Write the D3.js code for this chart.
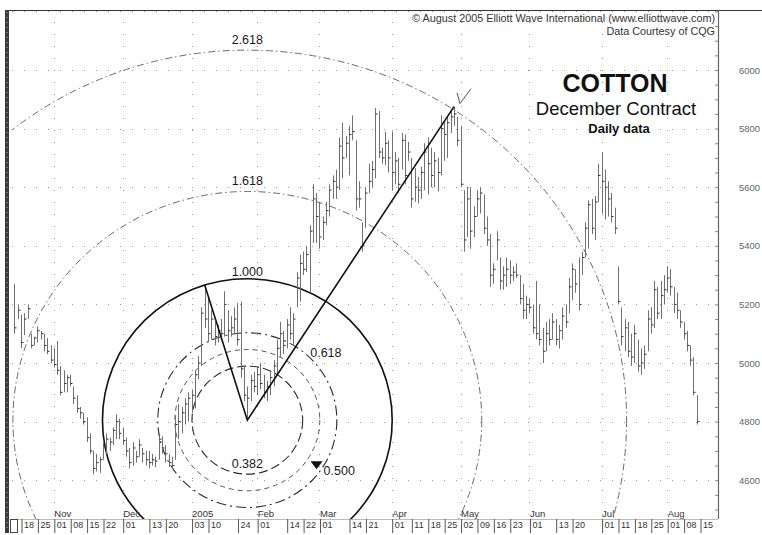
<!DOCTYPE html>
<html>
<head>
<meta charset="utf-8">
<script src="https://cdn.jsdelivr.net/npm/d3@7"></script>
<style>
  body { margin: 0; background: #fff; }
  svg { display: block; font-family: "Liberation Sans", Arial, sans-serif; }
</style>
</head>
<body>
<svg id="chart" width="762" height="535"></svg>
<script>
// ---- Trading calendar -------------------------------------------------
const calendarStart = "2004-10-14";
const calendarEnd = "2005-08-19";
const holidays = ["2004-11-25", "2004-12-24", "2004-12-31", "2005-01-17",
                  "2005-02-21", "2005-03-25", "2005-05-30", "2005-07-04"];

// ---- Daily bars (cents/lb x100), one entry per trading day from Oct 14 ----
const highs = [
  5270, 5200,                          // Oct 14-15
  5165, 5170, 5200, 5100, 5090,        // Oct 18-22
  5125, 5110, 5100, 5085, 5060,        // Oct 25-29
  5050, 5075, 4990, 4975, 4960,        // Nov 1-5
  4960, 4920, 4890, 4850, 4830,        // Nov 8-12
  4815, 4760, 4700, 4690, 4680,        // Nov 15-19
  4730, 4760, 4745, 4780,              // Nov 22-26
  4825, 4810, 4780, 4745, 4710,        // Nov 29-Dec 3
  4730, 4700, 4740, 4710, 4700,        // Dec 6-10
  4700, 4690, 4680, 4760, 4750,        // Dec 13-17
  4720, 4690, 4680, 4820,              // Dec 20-23
  4860, 4850, 4880, 4900,              // Dec 27-30
  4910, 4975, 5025, 5190, 5266,        // Jan 3-7
  5225, 5180, 5140, 5130, 5150,        // Jan 10-14
  5245, 5180, 5160, 5190,              // Jan 18-21
  5205, 5210, 4990, 4920, 4960,        // Jan 24-28
  4970, 4990, 5000, 4960, 4940,        // Jan 31-Feb 4
  4970, 5010, 5080, 5140, 5110,        // Feb 7-11
  5150, 5190, 5170, 5310, 5370,        // Feb 14-18
  5380, 5400, 5470, 5610,              // Feb 22-25
  5580, 5550, 5500, 5550, 5610,        // Feb 28-Mar 4
  5640, 5660, 5770, 5820, 5775,        // Mar 7-11
  5810, 5845, 5760, 5620, 5480,        // Mar 14-18
  5600, 5680, 5690, 5870,              // Mar 21-24
  5860, 5735, 5790, 5760, 5790,        // Mar 28-Apr 1
  5720, 5700, 5785, 5780, 5755,        // Apr 4-8
  5700, 5665, 5635, 5670, 5750,        // Apr 11-15
  5770, 5735, 5720, 5700, 5845,        // Apr 18-22
  5825, 5840, 5865, 5875, 5840,        // Apr 25-29
  5810, 5590, 5600, 5600, 5535,        // May 2-6
  5590, 5600, 5575, 5500, 5440,        // May 9-13
  5340, 5450, 5360, 5330, 5360,        // May 16-20
  5350, 5330, 5340, 5300, 5270,        // May 23-27
  5230, 5220, 5200, 5280,              // May 31-Jun 3
  5200, 5120, 5140, 5150, 5170,        // Jun 6-10
  5150, 5130, 5190, 5200, 5290,        // Jun 13-17
  5340, 5320, 5360, 5380, 5480,        // Jun 20-24
  5555, 5560, 5570, 5680, 5720,        // Jun 27-Jul 1
  5660, 5620, 5580, 5530,              // Jul 5-8
  5330, 5190, 5150, 5140, 5100,        // Jul 11-15
  5130, 5080, 5050, 5060, 5180,        // Jul 18-22
  5190, 5280, 5260, 5280, 5300,        // Jul 25-29
  5330, 5320, 5260, 5240, 5180,        // Aug 1-5
  5140, 5110, 5060, 5020, 4890         // Aug 8-12
];
const lows = [
  5100, 5150,
  5050, 5095, 5150, 5050, 5060,
  5070, 5080, 5040, 5030, 5000,
  4985, 4960, 4890, 4900, 4900,
  4920, 4860, 4830, 4810, 4790,
  4730, 4690, 4620, 4630, 4625,
  4670, 4690, 4700, 4720,
  4740, 4740, 4720, 4680, 4640,
  4650, 4660, 4680, 4660, 4650,
  4640, 4650, 4645, 4670, 4690,
  4660, 4645, 4640, 4670,
  4740, 4760, 4790, 4800,
  4830, 4845, 4945, 4990, 5120,
  5070, 5080, 5060, 5070, 5080,
  5090, 5070, 5090, 5100,
  5060, 4950, 4870, 4805, 4870,
  4900, 4890, 4910, 4880, 4870,
  4890, 4920, 4960, 5020, 5030,
  5050, 5080, 5060, 5190, 5210,
  5300, 5310, 5240, 5410,
  5410, 5390, 5420, 5470, 5500,
  5560, 5560, 5590, 5630, 5700,
  5640, 5760, 5520, 5530, 5380,
  5460, 5580, 5600, 5630,
  5700, 5680, 5676, 5650, 5590,
  5610, 5580, 5660, 5610, 5690,
  5530, 5550, 5545, 5560, 5590,
  5575, 5600, 5600, 5585, 5640,
  5690, 5700, 5785, 5810, 5740,
  5600, 5380, 5430, 5390, 5430,
  5500, 5510, 5440, 5400, 5260,
  5270, 5350, 5250, 5250, 5260,
  5270, 5280, 5290, 5200, 5150,
  5150, 5170, 5100, 5080,
  5060, 5000, 5040, 5060, 5080,
  5060, 5050, 5080, 5120, 5170,
  5215, 5240, 5180, 5300, 5360,
  5390, 5440, 5420, 5550, 5510,
  5490, 5500, 5480, 5440,
  5200, 5060, 5040, 5020, 4990,
  5000, 4970, 4960, 4980, 5040,
  5100, 5120, 5150, 5150, 5200,
  5240, 5230, 5170, 5150, 5120,
  5080, 5040, 4990, 4890, 4790
];
const closes = [
  5120, 5180,
  5070, 5150, 5185, 5060, 5085,
  5110, 5100, 5060, 5040, 5010,
  4995, 4975, 4900, 4930, 4950,
  4930, 4880, 4845, 4830, 4800,
  4745, 4700, 4640, 4660, 4670,
  4720, 4740, 4730, 4770,
  4800, 4760, 4735, 4700, 4660,
  4710, 4680, 4720, 4690, 4670,
  4660, 4670, 4665, 4740, 4710,
  4690, 4660, 4650, 4790,
  4800, 4830, 4860, 4880,
  4890, 4960, 5000, 5170, 5150,
  5100, 5150, 5090, 5110, 5100,
  5200, 5110, 5120, 5150,
  5080, 4980, 4890, 4880, 4940,
  4920, 4960, 4930, 4900, 4920,
  4950, 4990, 5050, 5100, 5060,
  5130, 5100, 5150, 5290, 5340,
  5320, 5370, 5450, 5560,
  5500, 5430, 5480, 5520, 5590,
  5620, 5600, 5740, 5700, 5750,
  5780, 5790, 5560, 5560, 5400,
  5580, 5620, 5660, 5850,
  5720, 5700, 5750, 5700, 5650,
  5690, 5610, 5760, 5640, 5720,
  5560, 5600, 5590, 5650, 5720,
  5680, 5640, 5690, 5650, 5800,
  5780, 5820, 5840, 5850, 5760,
  5610, 5420, 5560, 5450, 5500,
  5560, 5580, 5460, 5420, 5300,
  5320, 5420, 5280, 5300, 5320,
  5300, 5310, 5300, 5220, 5180,
  5200, 5190, 5120, 5100,
  5080, 5040, 5100, 5080, 5140,
  5080, 5110, 5160, 5140, 5260,
  5320, 5270, 5200, 5360, 5460,
  5540, 5460, 5550, 5640, 5620,
  5600, 5560, 5500, 5460,
  5210, 5090, 5120, 5040, 5020,
  5100, 4990, 5000, 5030, 5150,
  5130, 5250, 5170, 5230, 5250,
  5290, 5260, 5200, 5180, 5140,
  5100, 5060, 5010, 4900, 4800
];

// ---- Axis labels ------------------------------------------------------
const priceTicks = [4600, 4800, 5000, 5200, 5400, 5600, 5800, 6000];
const dayTicks = ["2004-10-18", "2004-10-25", "2004-11-01", "2004-11-08", "2004-11-15",
  "2004-11-22", "2004-12-01", "2004-12-13", "2004-12-20", "2005-01-03", "2005-01-10",
  "2005-01-24", "2005-02-01", "2005-02-14", "2005-02-22", "2005-03-01", "2005-03-14",
  "2005-03-21", "2005-04-01", "2005-04-11", "2005-04-18", "2005-04-25", "2005-05-02",
  "2005-05-09", "2005-05-16", "2005-05-23", "2005-06-01", "2005-06-13", "2005-06-20",
  "2005-07-01", "2005-07-11", "2005-07-18", "2005-07-25", "2005-08-01", "2005-08-08",
  "2005-08-15"];
const monthTicks = ["2004-11-01", "2004-12-01", "2005-01-03", "2005-02-01", "2005-03-01",
  "2005-04-01", "2005-05-02", "2005-06-01", "2005-07-01", "2005-08-01"];
const monthLabels = ["Nov", "Dec", "2005", "Feb", "Mar", "Apr", "May", "Jun", "Jul", "Aug"];

// ---- Fibonacci circles around the January low ---------------------------
const pivotDays = ["2005-01-07", "2005-01-27", "2005-04-28"];   // high, low, high
const fibRatios = [0.382, 0.5, 0.618, 1.0, 1.618, 2.618];
const fibLabels = ["0.382", "0.500", "0.618", "1.000", "1.618", "2.618"];

// ---- Texts --------------------------------------------------------------
const titleLines = ["COTTON", "December Contract", "Daily data"];
const creditLines = ["\u00A9 August 2005 Elliott Wave International (www.elliottwave.com)",
                     "Data Courtesy of CQG"];

// =========================================================================
const svg = d3.select("#chart");
const plot = { left: 12, right: 718, top: 10, bottom: 519 };

const parse = d3.utcParse("%Y-%m-%d");
const fmt = d3.utcFormat("%Y-%m-%d");
const days = [];
for (let d = parse(calendarStart); d <= parse(calendarEnd); d = d3.utcDay.offset(d, 1)) {
  const wd = d.getUTCDay();
  if (wd === 0 || wd === 6 || holidays.includes(fmt(d))) continue;
  days.push(fmt(d));
}
const step = 3.2802;
const x = d3.scalePoint().domain(days)
  .range([plot.left + 2.44, plot.left + 2.44 + (days.length - 1) * step]);
const y = d3.scaleLinear().domain([4600, 6000]).range([480.2, 70]);

const bars = highs.map((h, i) => ({ day: days[i], h, l: lows[i], c: closes[i] }));
const barOf = day => bars.find(b => b.day === day);

svg.append("defs").append("clipPath").attr("id", "plotClip")
  .append("rect").attr("x", plot.left).attr("y", plot.top)
  .attr("width", plot.right - plot.left).attr("height", plot.bottom - plot.top);

// Dotted grid
const grid = svg.append("g").attr("clip-path", "url(#plotClip)")
  .attr("stroke", "#9a9a9a").attr("stroke-width", 1).attr("stroke-dasharray", "1,11");
grid.selectAll("line.h").data(priceTicks.concat([6200])).join("line").attr("class", "h")
  .attr("x1", plot.left).attr("x2", plot.right)
  .attr("y1", d => Math.round(y(d)) + 0.5).attr("y2", d => Math.round(y(d)) + 0.5);
grid.selectAll("line.v").data(monthTicks).join("line").attr("class", "v")
  .attr("x1", d => Math.round(x(d)) + 0.5).attr("x2", d => Math.round(x(d)) + 0.5)
  .attr("y1", plot.top).attr("y2", plot.bottom);

// Fibonacci circles (slightly wider than tall, as in the charting package)
const lowBar = barOf(pivotDays[1]);
const hiBar1 = barOf(pivotDays[0]);
const hiBar2 = barOf(pivotDays[2]);
const cx = x(lowBar.day), cy = y(lowBar.l);
const aspect = 1.025;
const dx1 = x(hiBar1.day) - cx, dy1 = y(hiBar1.h) - cy;
const r1 = Math.sqrt((dx1 / aspect) ** 2 + dy1 ** 2);

const circleStyle = {
  0.382: { stroke: "#2a2a2a", width: 1.1, dash: "9,4" },
  0.5:   { stroke: "#555",    width: 1.0, dash: "5,4" },
  0.618: { stroke: "#2a2a2a", width: 1.1, dash: "10,4,2,4" },
  1.0:   { stroke: "#111",    width: 1.6, dash: null },
  1.618: { stroke: "#6a6a6a", width: 1.0, dash: "7,3,1.5,3" },
  2.618: { stroke: "#6a6a6a", width: 1.0, dash: "7,3,1.5,3" }
};
const circles = svg.append("g").attr("clip-path", "url(#plotClip)");
circles.selectAll("ellipse").data(fibRatios).join("ellipse")
  .attr("cx", cx).attr("cy", cy)
  .attr("rx", d => r1 * d * aspect).attr("ry", d => r1 * d)
  .attr("fill", "none")
  .attr("stroke", d => circleStyle[d].stroke)
  .attr("stroke-width", d => circleStyle[d].width)
  .attr("stroke-dasharray", d => circleStyle[d].dash);

// OHLC-style bars (high-low range with close tick)
const barG = svg.append("g").attr("clip-path", "url(#plotClip)");
barG.selectAll("line.range").data(bars).join("line").attr("class", "range")
  .attr("x1", d => Math.round(x(d.day)) + 0.5).attr("x2", d => Math.round(x(d.day)) + 0.5)
  .attr("y1", d => y(d.h)).attr("y2", d => y(d.l))
  .attr("stroke", "#707070").attr("stroke-width", 1);
barG.selectAll("line.close").data(bars).join("line").attr("class", "close")
  .attr("x1", d => Math.round(x(d.day)) + 0.5).attr("x2", d => Math.round(x(d.day)) + 2.5)
  .attr("y1", d => y(d.c)).attr("y2", d => y(d.c))
  .attr("stroke", "#2a2a2a").attr("stroke-width", 1);

// Zigzag through the three pivots
const zig = [[x(hiBar1.day), y(hiBar1.h)], [cx, cy], [x(hiBar2.day), y(hiBar2.h)]];
svg.append("path").attr("d", d3.line()(zig))
  .attr("fill", "none").attr("stroke", "#111").attr("stroke-width", 1.6)
  .attr("stroke-linejoin", "miter");

// Wave mark above the April high
const hx = x(hiBar2.day), hy = y(hiBar2.h);
svg.append("path")
  .attr("d", `M${hx + 3},${hy - 14} L${hx + 6},${hy - 3} L${hx + 17},${hy - 18}`)
  .attr("fill", "none").attr("stroke", "#555").attr("stroke-width", 1);

// Ratio labels
const lab = svg.append("g").attr("font-size", 12.5).attr("fill", "#1a1a1a");
[3, 4, 5].forEach(k => {
  lab.append("text").attr("x", cx).attr("y", cy - r1 * fibRatios[k] - (k === 3 ? 3 : 6))
    .attr("text-anchor", "middle").text(fibLabels[k]);
});
lab.append("text").attr("x", cx).attr("y", cy + r1 * fibRatios[0] - 6)
  .attr("text-anchor", "middle").text(fibLabels[0]);
lab.append("text").attr("x", cx + r1 * 0.445).attr("y", cy - r1 * 0.445)
  .attr("text-anchor", "start").text(fibLabels[2]);
// marker pointing at the 0.500 circle
const ang = 33.8 * Math.PI / 180;
const tx = cx + r1 * 0.575 * aspect * Math.cos(ang), ty = cy + r1 * 0.575 * Math.sin(ang);
svg.append("path").attr("d", `M${tx - 6},${ty - 4} L${tx + 6},${ty - 4} L${tx},${ty + 4} Z`)
  .attr("fill", "#111");
lab.append("text").attr("x", tx + 7).attr("y", ty + 10).attr("text-anchor", "start").text(fibLabels[1]);

// Frame
svg.append("line").attr("x1", 5).attr("x2", 762).attr("y1", 10.5).attr("y2", 10.5)
  .attr("stroke", "#333").attr("stroke-width", 1);
svg.append("line").attr("x1", plot.right + 0.5).attr("x2", plot.right + 0.5)
  .attr("y1", plot.top).attr("y2", plot.bottom).attr("stroke", "#666").attr("stroke-width", 1.2);
svg.append("line").attr("x1", plot.left).attr("x2", plot.right)
  .attr("y1", plot.bottom + 0.5).attr("y2", plot.bottom + 0.5).attr("stroke", "#bbb");
svg.append("rect").attr("x", 5).attr("y", 10).attr("width", 4).attr("height", 523).attr("fill", "#3c3c3c");
svg.append("line").attr("x1", 7).attr("x2", 7).attr("y1", 12).attr("y2", 531)
  .attr("stroke", "#aaa").attr("stroke-width", 1).attr("stroke-dasharray", "1,4");
svg.append("rect").attr("x", 10.5).attr("y", 519.5).attr("width", 7).attr("height", 13)
  .attr("fill", "none").attr("stroke", "#444");

// Right price axis: inward ticks + labels
const minorTicks = d3.range(4500, 6201, 50);
svg.append("g").attr("transform", `translate(${plot.right},0)`)
  .call(d3.axisLeft(y).tickValues(minorTicks).tickSize(3).tickFormat(""))
  .call(g => g.select(".domain").remove())
  .call(g => g.selectAll("line").attr("stroke", "#888"));
svg.append("g").attr("transform", `translate(${plot.right},0)`)
  .call(d3.axisRight(y).tickValues(priceTicks).tickSize(0).tickPadding(21).tickFormat(d3.format("d")))
  .call(g => g.select(".domain").remove())
  .call(g => g.selectAll("text").attr("font-size", 9.5).attr("fill", "#666")
    .attr("font-family", "'Liberation Sans', Arial, sans-serif"));

// Bottom date axis: day numbers
svg.append("g").attr("transform", `translate(0,${plot.bottom})`)
  .call(d3.axisBottom(x).tickValues(dayTicks.filter(d => days.includes(d))).tickSize(14)
    .tickFormat(d => d.slice(8)))
  .call(g => g.select(".domain").remove())
  .call(g => g.selectAll("line").attr("stroke", "#555").attr("transform", "translate(0.5,0)"))
  .call(g => g.selectAll("text").attr("text-anchor", "start").attr("x", 2.5).attr("y", 3)
    .attr("dy", "0.71em").attr("font-size", 9).attr("fill", "#333")
    .attr("font-family", "'Liberation Sans', Arial, sans-serif"));

// Month names just above the date row
svg.append("g").attr("transform", `translate(0,${plot.bottom})`)
  .call(d3.axisTop(x).tickValues(monthTicks).tickSize(0).tickPadding(2.5)
    .tickFormat((d, i) => monthLabels[i]))
  .call(g => g.select(".domain").remove())
  .call(g => g.selectAll("text").attr("text-anchor", "start").attr("x", 0)
    .attr("font-size", 9.5).attr("fill", "#333")
    .attr("font-family", "'Liberation Sans', Arial, sans-serif"));

// Title block
svg.append("text").attr("x", 615).attr("y", 92).attr("text-anchor", "middle")
  .attr("font-size", 25).attr("font-weight", "bold").attr("fill", "#111").text(titleLines[0]);
svg.append("text").attr("x", 616).attr("y", 115).attr("text-anchor", "middle")
  .attr("font-size", 18.5).attr("fill", "#111").text(titleLines[1]);
svg.append("text").attr("x", 619).attr("y", 133).attr("text-anchor", "middle")
  .attr("font-size", 13).attr("font-weight", "bold").attr("fill", "#111").text(titleLines[2]);

// Credits
svg.append("text").attr("x", 715).attr("y", 22).attr("text-anchor", "end")
  .attr("font-size", 10.8).attr("fill", "#333").text(creditLines[0]);
svg.append("text").attr("x", 715).attr("y", 35).attr("text-anchor", "end")
  .attr("font-size", 10.8).attr("fill", "#333").text(creditLines[1]);
</script>
</body>
</html>
